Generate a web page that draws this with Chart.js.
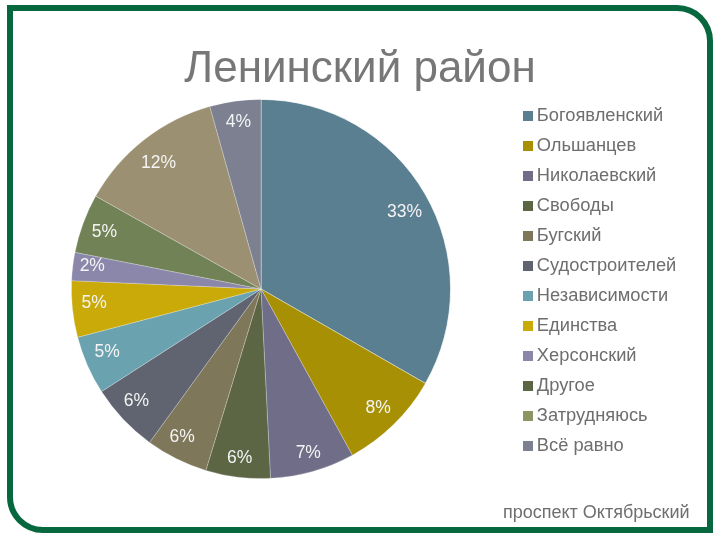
<!DOCTYPE html>
<html><head><meta charset="utf-8">
<style>
html,body{margin:0;padding:0;background:#fff;width:720px;height:540px;overflow:hidden}
#wrap{position:relative;width:720px;height:540px}
#frame{position:absolute;left:7px;top:5px;width:694px;height:516px;border:6px solid #07683f;border-radius:0 36px 0 36px;pointer-events:none}
#foot{position:absolute;left:503px;top:502px;font:18px "Liberation Sans",Arial,sans-serif;color:#6e6e6e;white-space:nowrap}
canvas{position:absolute;left:0;top:0}
</style></head><body>
<div id="wrap">
<canvas id="c" width="720" height="540"></canvas>
<div id="frame"></div>
<div id="foot">проспект Октябрьский</div>
</div>
<script src="https://cdn.jsdelivr.net/npm/chart.js@4"></script>
<script>
const titleText = "Ленинский район";
const categories = ["Богоявленский","Ольшанцев","Николаевский","Свободы","Бугский","Судостроителей","Независимости","Единства","Херсонский","Другое","Затрудняюсь","Всё равно"];
const values = [33.3,8.7,7.2,5.5,5.3,5.9,5.0,4.8,2.4,5.05,12.5,4.35];
const percentLabels = ["33%","8%","7%","6%","6%","6%","5%","5%","2%","5%","12%","4%"];
const colors = ["#5a7f91","#a89005","#6f6d87","#5c6645","#7f7759","#5f6470","#6ba2b0","#c9aa08","#8a87ab","#728257","#9b9071","#7d8090"];
const legendColors = ["#5a7f91","#a89005","#6f6d87","#5c6645","#7f7759","#5f6470","#6ba2b0","#c9aa08","#8a87ab","#5c6645","#8d9465","#7d8090"];
const sliceBorders = ["rgba(255,255,255,0.9)"].concat(categories.slice(1).map(()=>"rgba(255,255,255,0.3)"));
const labelNudgeX = [0,1,2,-1,-5,-4,-2,-2,-4,-1,0,0];
const labelNudgeY = [6,1,5,5,0,-2,-4,-4,-3,1,5,-2];
const FONT = '"Liberation Sans",Arial,sans-serif';

function swatch(color){
  const s = document.createElement('canvas');
  s.width = 10; s.height = 10;
  const g = s.getContext('2d');
  g.fillStyle = color; g.fillRect(0,0,10,10);
  return s;
}
const swatches = legendColors.map(swatch);

const layoutPlugin = {
  id:'layoutPlugin',
  beforeLayout(chart){
    const l = chart.legend;
    if(!l._fitPatched){
      const f = l.fit;
      l.fit = function(){ f.call(this); this.width = 198; };
      l._fitPatched = true;
    }
  },
  afterLayout(chart){
    const l = chart.legend;
    const h = l.bottom - l.top;
    l.left = 516; l.right = 516 + 198;
    l.top = 95.5; l.bottom = 95.5 + h;
  }
};
const sliceLabels = {
  id:'sliceLabels',
  afterDatasetsDraw(chart){
    const ctx = chart.ctx, arcs = chart.getDatasetMeta(0).data;
    ctx.save();
    ctx.font = '17.5px '+FONT;
    ctx.fillStyle = '#f4f4f4';
    ctx.textAlign='center'; ctx.textBaseline='middle';
    arcs.forEach((a,i)=>{
      const p = a.getProps(['x','y','startAngle','endAngle','outerRadius'],true);
      const m = (p.startAngle+p.endAngle)/2, r = p.outerRadius*0.875;
      ctx.fillText(percentLabels[i], p.x+Math.cos(m)*r+labelNudgeX[i], p.y+Math.sin(m)*r+labelNudgeY[i]);
    });
    ctx.restore();
  }
};
new Chart(document.getElementById('c'),{
  type:'pie',
  data:{labels:categories,datasets:[{data:values,backgroundColor:colors,borderColor:sliceBorders,borderWidth:0.8}]},
  plugins:[layoutPlugin,sliceLabels],
  options:{
    responsive:false,animation:false,
    layout:{padding:{left:71,right:71,top:0,bottom:61}},
    plugins:{
      tooltip:{enabled:false},
      title:{display:true,text:titleText,color:'#777777',font:{family:FONT,size:44,weight:'normal'},padding:{top:43,bottom:3.2}},
      legend:{
        position:'right',align:'start',
        labels:{
          usePointStyle:true,pointStyleWidth:0.01,boxHeight:10,padding:11.7,color:'#6e6e6e',font:{family:FONT,size:18.3},
          generateLabels(chart){
            return categories.map((t,i)=>({text:t,fillStyle:legendColors[i],strokeStyle:legendColors[i],lineWidth:0,pointStyle:swatches[i],index:i,fontColor:'#6e6e6e'}));
          }
        }
      }
    }
  }
});
</script>
</body></html>
